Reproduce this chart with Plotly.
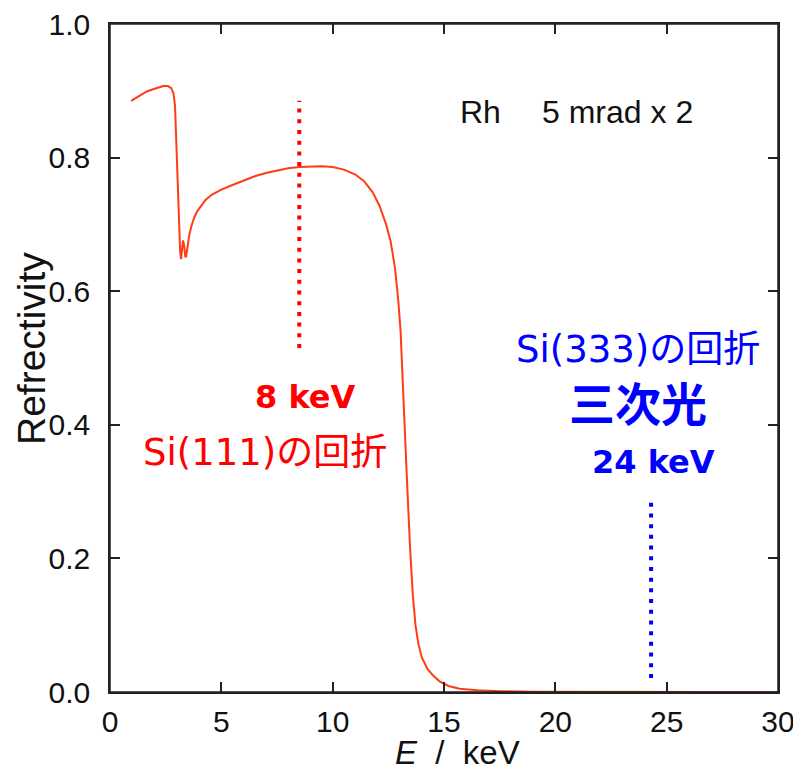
import plotly.graph_objects as go

# Reflectivity curve (Rh, 5 mrad x 2)
energy_keV = [0.95, 1.3, 1.65, 2.0, 2.4, 2.6, 2.75, 2.85, 2.92, 2.97, 3.03, 3.09, 3.15,
              3.19, 3.23, 3.28, 3.33, 3.38, 3.42, 3.48, 3.56, 3.66, 3.78, 3.92, 4.1,
              4.3, 4.6, 5.0, 5.5, 6.0, 6.5, 7.0, 7.5, 8.0, 8.5, 9.0, 9.5, 10.0, 10.5,
              11.0, 11.4, 11.8, 12.1, 12.4, 12.6, 12.8, 12.95, 13.05, 13.17, 13.32,
              13.47, 13.6, 13.72, 13.85, 14.0, 14.25, 14.5, 14.8, 15.2, 15.7, 16.5,
              17.5, 19.0, 21.0, 24.0, 27.0, 30.0]
reflectivity = [0.885, 0.892, 0.899, 0.903, 0.907, 0.907, 0.904, 0.896, 0.878, 0.830,
                0.770, 0.710, 0.660, 0.648, 0.660, 0.676, 0.668, 0.652, 0.652, 0.668,
                0.684, 0.698, 0.710, 0.720, 0.729, 0.737, 0.745, 0.752, 0.759, 0.766,
                0.772, 0.777, 0.781, 0.784, 0.786, 0.787, 0.787, 0.786, 0.782, 0.775,
                0.765, 0.748, 0.728, 0.700, 0.675, 0.635, 0.585, 0.540, 0.440, 0.330,
                0.220, 0.145, 0.100, 0.072, 0.052, 0.035, 0.025, 0.016, 0.009, 0.005,
                0.0025, 0.0012, 0.0005, 0.0002, 0.0001, 0.0, 0.0]

# Marker lines
si111_x = [8.5, 8.5]
si111_y = [0.515, 0.885]
si333_x = [24.3, 24.3]
si333_y = [0.021, 0.287]

x_ticks = [0, 5, 10, 15, 20, 25, 30]
y_ticks = [0.0, 0.2, 0.4, 0.6, 0.8, 1.0]
y_tick_labels = ["0.0", "0.2", "0.4", "0.6", "0.8", "1.0"]

fig = go.Figure()
fig.add_trace(go.Scatter(x=energy_keV, y=reflectivity, mode="lines",
                         line=dict(color="#ff3c14", width=2), showlegend=False))
fig.add_trace(go.Scatter(x=si111_x, y=si111_y, mode="lines",
                         line=dict(color="#ff0000", width=4, dash="4px,6.7px"),
                         showlegend=False))
fig.add_trace(go.Scatter(x=si333_x, y=si333_y, mode="lines",
                         line=dict(color="#0000ff", width=4, dash="4px,6.7px"),
                         showlegend=False))

mix = "DejaVu Sans, Noto Sans CJK JP"
lat = "Liberation Sans"
ann = [
    dict(x=15.63, y=0.868, text="Rh", xanchor="left", font=dict(size=32, color="#111", family=lat)),
    dict(x=19.31, y=0.868, text="5 mrad x 2", xanchor="left", font=dict(size=32, color="#111", family=lat)),
    dict(x=8.80, y=0.4416, text="<b>8 keV</b>", font=dict(size=32, color="#ff0000", family=mix)),
    dict(x=6.96, y=0.359, text="Si(111)の回折", font=dict(size=37, color="#ff0000", family=mix)),
    dict(x=23.71, y=0.512, text="Si(333)の回折", font=dict(size=37, color="#0000ff", family=mix)),
    dict(x=23.71, y=0.4296, text="<b>三次光</b>", font=dict(size=46, color="#0000ff", family=mix)),
    dict(x=24.43, y=0.344, text="<b>24 keV</b>", font=dict(size=32, color="#0000ff", family=mix)),
]
for a in ann:
    a.update(xref="x", yref="y", showarrow=False)
# axis titles
ann.append(dict(xref="paper", yref="paper", x=(457 - 110) / 668, y=(692 - 752) / 668,
                text="<i>E</i>  /  keV", showarrow=False, xanchor="center", yanchor="middle",
                font=dict(family=lat, size=33, color="#111")))
ann.append(dict(xref="paper", yref="paper", x=(31 - 110) / 668, y=(692 - 349) / 668,
                text="Refrectivity", showarrow=False, textangle=-90,
                xanchor="center", yanchor="middle",
                font=dict(family=lat, size=39, color="#111")))
fig.update_layout(annotations=ann)

# explicit frame around the plotting area
fig.add_shape(type="rect", xref="paper", yref="paper", x0=0, x1=1, y0=0, y1=1,
              line=dict(color="#222", width=1.5), layer="above")

axis_common = dict(showgrid=False, zeroline=False, showline=True, linecolor="#222",
                   linewidth=1.5, mirror="allticks", ticks="inside", ticklen=10,
                   tickwidth=1.5, tickcolor="#222", automargin=False,
                   ticklabeloverflow="allow",
                   tickfont=dict(family=lat, size=30, color="#111"))
fig.update_xaxes(range=[0, 30], tickvals=x_ticks, ticklabelstandoff=2, **axis_common)
fig.update_yaxes(range=[0, 1.0], tickvals=y_ticks, ticktext=y_tick_labels,
                 ticklabelstandoff=12, **axis_common)

# page body has an 8px margin; compensate so the plot box lands at x 110-778, y 24-692
fig.update_layout(width=793, height=761, margin=dict(l=102, r=23, t=16, b=77),
                  plot_bgcolor="white", paper_bgcolor="white")
fig.write_html("out.html")
